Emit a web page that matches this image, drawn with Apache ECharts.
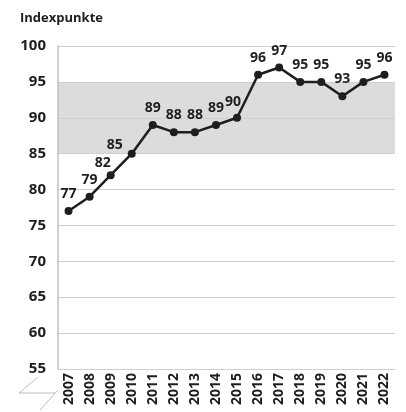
<!DOCTYPE html>
<html>
<head>
<meta charset="utf-8">
<title>Indexpunkte</title>
<script src="https://cdn.jsdelivr.net/npm/echarts@6/dist/echarts.min.js"></script>
<style>
  html, body { margin: 0; padding: 0; background: #fff; }
  #chart { width: 406px; height: 412px; }
</style>
</head>
<body>
<div id="chart"></div>
<script>
// Daten
var years = ['2007','2008','2009','2010','2011','2012','2013','2014','2015','2016','2017','2018','2019','2020','2021','2022'];
var values = [77, 79, 82, 85, 89, 88, 88, 89, 90, 96, 97, 95, 95, 93, 95, 96];
var bandRange = [85, 95];
var yTicks = [55, 100, 5]; // min, max, interval

// labels that sit left of the point on steep parts
var labelShift = { 2: [-8, 5], 3: [-17, 8], 8: [-4, 1] };

var font = '"Open Sans", sans-serif';
var ink = '#1e1e1e';

var chart = echarts.init(document.getElementById('chart'));

var points = values.map(function (v, i) {
    var item = { value: v };
    if (labelShift[i]) item.label = { offset: labelShift[i] };
    return item;
});

chart.setOption({
    animation: false,
    title: {
        text: 'Indexpunkte',
        left: 15, top: 7,
        textStyle: { fontFamily: font, fontSize: 13, fontWeight: 'bold', color: ink }
    },
    grid: { left: 58, right: 11, top: 46, bottom: 43 },
    xAxis: {
        type: 'category',
        data: years,
        boundaryGap: true,
        axisLine: { show: false },
        axisTick: { show: false },
        axisLabel: {
            interval: 0, rotate: 90, margin: 4,
            fontFamily: font, fontSize: 14, fontWeight: 'bold', color: ink
        }
    },
    yAxis: {
        type: 'value',
        z: 3, // grid lines over the grey band
        min: yTicks[0], max: yTicks[1], interval: yTicks[2],
        axisLine: { show: true, lineStyle: { color: '#c0c0c0', width: 1.5 } },
        axisTick: { show: false },
        splitLine: { lineStyle: { color: '#cfcfcf', width: 1 } },
        axisLabel: {
            margin: 12,
            fontFamily: font, fontSize: 15, fontWeight: 'bold', color: ink
        }
    },
    series: [
        {
            // grey band
            type: 'line',
            data: [],
            z: 1,
            silent: true,
            markArea: {
                z: 1,
                silent: true,
                itemStyle: { color: '#dcdcdd' },
                data: [[{ yAxis: bandRange[0] }, { yAxis: bandRange[1] }]]
            }
        },
        {
            type: 'line',
            data: points,
            z: 5,
            symbol: 'circle',
            symbolSize: 8,
            lineStyle: { color: ink, width: 2.5 },
            itemStyle: { color: ink },
            label: {
                show: true,
                position: 'top',
                distance: 6,
                fontFamily: font, fontSize: 14, fontWeight: 'bold', color: ink
            }
        }
    ],
    graphic: [
        {
            type: 'polyline',
            shape: { points: [[38, 377], [19, 393], [55, 393]] },
            style: { stroke: '#bdbdbd', lineWidth: 1, fill: null }
        },
        {
            type: 'line',
            shape: { x1: 58, y1: 390, x2: 40, y2: 410 },
            style: { stroke: '#bdbdbd', lineWidth: 1 }
        }
    ]
});
</script>
</body>
</html>
